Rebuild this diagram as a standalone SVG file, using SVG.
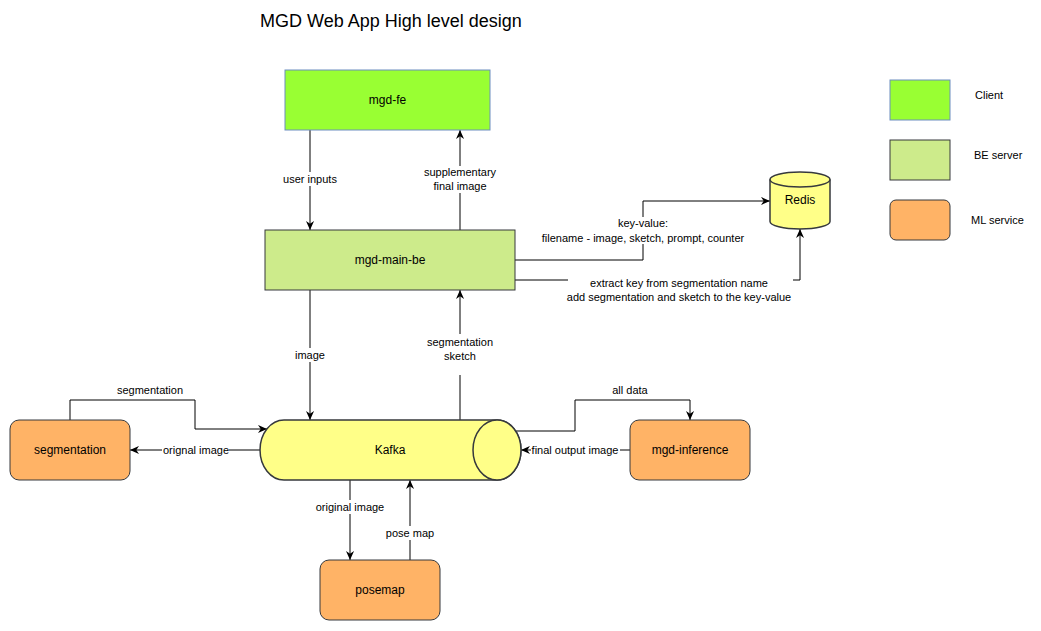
<svg xmlns="http://www.w3.org/2000/svg" width="1041" height="631" viewBox="0 0 1041 631">
<style>
text{font-family:"Liberation Sans",Arial,sans-serif;fill:#000}
.lbl{font-size:11px;text-anchor:middle}
.nl{font-size:12px;text-anchor:middle}
.leg{font-size:11px}
.edge{fill:none;stroke:#000;stroke-width:1}
.be{fill:#CDEB8B;stroke:#36393D;stroke-width:1}
.ml{fill:#FFB366;stroke:#36393D;stroke-width:1}
.cl{fill:#99FF33;stroke:#6C8EBF;stroke-width:1}
.cyl{fill:#FFFF88;stroke:#36393D;stroke-width:1.5}
</style>
<defs>
<marker id="arr" viewBox="0 0 10 10" refX="10" refY="5" markerWidth="9" markerHeight="9" markerUnits="userSpaceOnUse" orient="auto">
<path d="M0,0.5 L10,5 L0,9.5 L3,5 Z" fill="#000"/>
</marker>
</defs>
<rect width="1041" height="631" fill="#fff"/>
<text x="260" y="27" style="font-size:18px">MGD Web App High level design</text>

<g id="edges">
<path class="edge" d="M310,130 L310,172 M310,186 L310,230" marker-end="url(#arr)"/>
<text class="lbl" x="310" y="183">user inputs</text>
<path class="edge" d="M460,230 L460,193 M460,166 L460,130" marker-end="url(#arr)"/>
<text class="lbl" x="460" y="176">supplementary</text>
<text class="lbl" x="460" y="190">final image</text>
<path class="edge" d="M515,260 L643,260 L643,244 M643,217 L643,201 L770,201" marker-end="url(#arr)"/>
<text class="lbl" x="643" y="227">key-value:</text>
<text class="lbl" x="643" y="242">filename - image, sketch, prompt, counter</text>
<path class="edge" d="M515,280 L568,280 M793,280 L800,280 L800,229" marker-end="url(#arr)"/>
<text class="lbl" x="679" y="287">extract key from segmentation name</text>
<text class="lbl" x="679" y="301">add segmentation and sketch to the key-value</text>
<path class="edge" d="M310,290 L310,348 M310,362 L310,420" marker-end="url(#arr)"/>
<text class="lbl" x="310" y="359">image</text>
<path class="edge" d="M460,420 L460,375 M460,334 L460,290" marker-end="url(#arr)"/>
<text class="lbl" x="460" y="346">segmentation</text>
<text class="lbl" x="460" y="360">sketch</text>
<path class="edge" d="M70,420 L70,400 L195,400 L195,429 L267,429" marker-end="url(#arr)"/>
<text class="lbl" x="150" y="394">segmentation</text>
<path class="edge" d="M260,450 L229,450 M162,450 L130,450" marker-end="url(#arr)"/>
<text class="lbl" x="196" y="454">orignal image</text>
<path class="edge" d="M515,431 L575,431 L575,400 L690,400 L690,420" marker-end="url(#arr)"/>
<text class="lbl" x="630" y="394">all data</text>
<path class="edge" d="M630,450 L620,450 M531,450 L521,450" marker-end="url(#arr)"/>
<text class="lbl" x="575" y="454">final output image</text>
<path class="edge" d="M350,480 L350,500 M350,514 L350,560" marker-end="url(#arr)"/>
<text class="lbl" x="350" y="511">original image</text>
<path class="edge" d="M410,560 L410,540 M410,526 L410,480" marker-end="url(#arr)"/>
<text class="lbl" x="410" y="537">pose map</text>
</g>

<g id="mgd-fe">
<rect class="cl" x="285" y="70" width="205" height="60"/>
<text class="nl" x="387.5" y="104">mgd-fe</text>
</g>
<g id="mgd-main-be">
<rect class="be" x="265" y="230" width="250" height="60"/>
<text class="nl" x="390" y="264">mgd-main-be</text>
</g>
<g id="redis">
<path class="cyl" d="M770,179.5 A30,7.5 0 0 1 830,179.5 L830,221.5 A30,7.5 0 0 1 770,221.5 Z"/>
<path class="cyl" style="fill:none" d="M770,179.5 A30,7.5 0 0 0 830,179.5"/>
<text class="nl" x="800" y="204">Redis</text>
</g>
<g id="kafka">
<path class="cyl" d="M284,420 L497,420 A24,30 0 0 1 497,480 L284,480 A24,30 0 0 1 284,420 Z"/>
<ellipse class="cyl" cx="497" cy="450" rx="24" ry="30"/>
<text class="nl" x="390" y="454">Kafka</text>
</g>
<g id="segmentation">
<rect class="ml" x="10" y="420" width="120" height="60" rx="9"/>
<text class="nl" x="70" y="454">segmentation</text>
</g>
<g id="mgd-inference">
<rect class="ml" x="630" y="420" width="120" height="60" rx="9"/>
<text class="nl" x="690" y="454">mgd-inference</text>
</g>
<g id="posemap">
<rect class="ml" x="320" y="560" width="120" height="60" rx="9"/>
<text class="nl" x="380" y="594">posemap</text>
</g>
<g id="legend">
<rect class="cl" x="890" y="80" width="60" height="40"/>
<text class="leg" x="975" y="99">Client</text>
<rect class="be" x="890" y="140" width="60" height="40"/>
<text class="leg" x="974" y="159">BE server</text>
<rect class="ml" x="890" y="200" width="60" height="40" rx="6"/>
<text class="leg" x="971" y="224">ML service</text>
</g>
</svg>
